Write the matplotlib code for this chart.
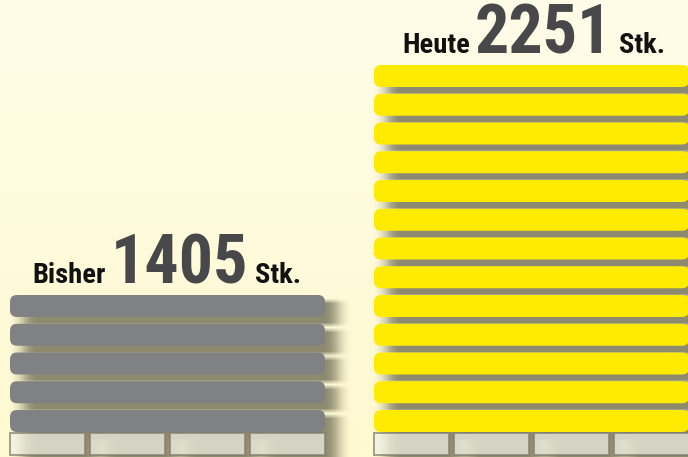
import numpy as np
import matplotlib
matplotlib.use('Agg')
import matplotlib.pyplot as plt
from matplotlib.patches import FancyBboxPatch, Rectangle

# data
labels = ['Bisher', 'Heute']
values = [1405, 2251]
unit = 'Stk.'
n_slabs = [5, 13]
slab_colors = ['#808183', '#ffeb00']

# layout (pixels)
W, H = 688, 457
stack_left = [10, 374]
stack_width = 315
slab_h = 22
pitch = 28.75
base_top = 433
base_h = 22
n_blocks = 4
block_gap = 5
shadow_dx, shadow_dy = 13, 6

fig = plt.figure(figsize=(W / 100, H / 100), dpi=100)
ax = fig.add_axes([0, 0, 1, 1])
ax.set_xlim(0, W)
ax.set_ylim(H, 0)
ax.axis('off')

# background gradient
top_c = np.array([255, 253, 232]) / 255
bot_c = np.array([254, 249, 208]) / 255
t = np.linspace(0, 1, H)[:, None, None]
bg = top_c * (1 - t) + bot_c * t
bg = np.repeat(bg, 2, axis=1)
ax.imshow(bg, extent=(0, W, H, 0), aspect='auto', zorder=0)

# rectangles of each stack
rects = []
for left, n in zip(stack_left, n_slabs):
    for i in range(n):
        top = base_top - 1 - slab_h - i * pitch
        rects.append((left, top, stack_width, slab_h, 'slab'))
    bw = (stack_width - (n_blocks - 1) * block_gap) / n_blocks
    for j in range(n_blocks):
        rects.append((left + j * (bw + block_gap), base_top, bw, base_h, 'block'))

# soft drop shadow
mask = np.zeros((H + 40, W + 40))
for x, y, w, h, kind in rects:
    x0 = int(round(x + shadow_dx)); y0 = int(round(y + shadow_dy))
    mask[y0:y0 + int(h) + 2, x0:x0 + int(w)] = 1


def blur(a, r, axis):
    k = np.ones(2 * r + 1) / (2 * r + 1)
    return np.apply_along_axis(lambda m: np.convolve(m, k, mode='same'), axis, a)


for _ in range(2):
    mask = blur(mask, 7, 1)
mask = blur(mask, 2, 0)
mask = mask[:H, :W]
shadow = np.zeros((H, W, 4))
shadow[..., :3] = np.array([98, 94, 70]) / 255
shadow[..., 3] = np.clip(mask * 0.72, 0, 1)
ax.imshow(shadow, extent=(0, W, H, 0), aspect='auto', zorder=1)

# slabs and pallet blocks
idx = 0
for k, n in enumerate(n_slabs):
    for x, y, w, h, kind in rects[idx:idx + n + n_blocks]:
        if kind == 'slab':
            ax.add_patch(FancyBboxPatch((x, y), w, h,
                                        boxstyle='round,pad=0,rounding_size=7',
                                        fc=slab_colors[k], ec='none', zorder=2))
        else:
            ax.add_patch(Rectangle((x, y), w, h, fc=(0.95, 0.95, 0.90), alpha=0.72,
                                   ec='#7f7e6e', lw=1.4, zorder=2))
    idx += n + n_blocks

# labels
cond = ['Roboto Condensed', 'DejaVu Sans']
for k, (lab, val, n) in enumerate(zip(labels, values, n_slabs)):
    top = base_top - 1 - slab_h - (n - 1) * pitch
    base = top - 12
    cx = stack_left[k] + stack_width / 2 + 12
    num = ax.text(cx, base, str(val), ha='center', va='baseline',
                  fontsize=49, fontweight='heavy', color='#48484a',
                  family=cond, zorder=3)
    ax.annotate(lab, xy=(0, base), xycoords=(num, 'data'),
                xytext=(-5, 0), textcoords='offset pixels',
                ha='right', va='baseline', fontsize=20.5, fontweight='bold',
                color='#111111', family=cond, zorder=3)
    ax.annotate(unit, xy=(1, base), xycoords=(num, 'data'),
                xytext=(7, 0), textcoords='offset pixels',
                ha='left', va='baseline', fontsize=20.5, fontweight='bold',
                color='#111111', family=cond, zorder=3)

fig.savefig('out.png', dpi=100)
